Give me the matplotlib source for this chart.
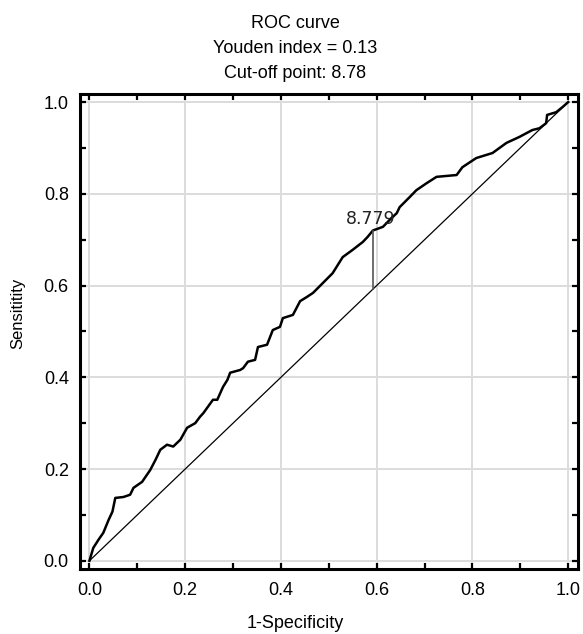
import matplotlib
matplotlib.use("Agg")
import matplotlib.pyplot as plt
from matplotlib.ticker import MultipleLocator

# ====== DATA ======
fpr = [0.000, 0.008, 0.019, 0.029, 0.040, 0.048, 0.054, 0.071, 0.085, 0.092,
       0.110, 0.127, 0.138, 0.148, 0.162, 0.175, 0.190, 0.204, 0.221, 0.231,
       0.238, 0.258, 0.267, 0.279, 0.288, 0.294, 0.315, 0.321, 0.331, 0.346,
       0.352, 0.371, 0.383, 0.398, 0.404, 0.425, 0.440, 0.454, 0.467, 0.488,
       0.508, 0.529, 0.550, 0.571, 0.581, 0.592, 0.613, 0.627, 0.642, 0.648,
       0.669, 0.683, 0.704, 0.725, 0.767, 0.779, 0.808, 0.842, 0.871, 0.898,
       0.925, 0.940, 0.954, 0.956, 0.975, 0.988, 1.000]
tpr = [0.000, 0.028, 0.046, 0.061, 0.089, 0.107, 0.137, 0.139, 0.144, 0.159,
       0.172, 0.198, 0.220, 0.242, 0.253, 0.249, 0.264, 0.290, 0.300, 0.314,
       0.322, 0.351, 0.351, 0.379, 0.394, 0.410, 0.416, 0.420, 0.434, 0.438,
       0.466, 0.471, 0.503, 0.510, 0.529, 0.536, 0.566, 0.575, 0.584, 0.606,
       0.627, 0.662, 0.678, 0.695, 0.706, 0.720, 0.728, 0.743, 0.758, 0.771,
       0.793, 0.808, 0.823, 0.837, 0.841, 0.858, 0.878, 0.889, 0.911, 0.924,
       0.939, 0.943, 0.954, 0.972, 0.978, 0.989, 1.000]
cut_fpr = 0.592
cut_tpr = 0.720
cut_label = "8.779"
title_lines = ["ROC curve", "Youden index = 0.13", "Cut-off point: 8.78"]
ticks = [0.0, 0.2, 0.4, 0.6, 0.8, 1.0]
# ===========================================

plt.rcParams['font.family'] = ['Liberation Sans', 'DejaVu Sans']

fig = plt.figure(figsize=(5.83, 6.34), dpi=100)
ax = fig.add_axes([0.137, 0.1025, 0.854, 0.7495])

ax.plot([0, 1], [0, 1], color='black', lw=0.9)
ax.plot(fpr, tpr, color='black', lw=1.8)
ax.plot([cut_fpr, cut_fpr], [cut_fpr, cut_tpr], color='#555555', lw=1.2)
ax.text(cut_fpr - 0.004, cut_tpr + 0.006, cut_label, ha='center', va='bottom',
        fontsize=12.5, family='DejaVu Sans', color='#222222')

ax.set_xlim(-0.02, 1.02)
ax.set_ylim(-0.018, 1.018)
ax.set_xticks(ticks)
ax.set_yticks(ticks)
ax.set_xticklabels([f"{t:.1f}" for t in ticks])
ax.set_yticklabels([f"{t:.1f}" for t in ticks])
ax.xaxis.set_minor_locator(MultipleLocator(0.1))
ax.yaxis.set_minor_locator(MultipleLocator(0.1))
ax.tick_params(which='both', direction='in', top=True, right=True,
               length=4, width=1.6, labelsize=13)
ax.tick_params(axis='x', pad=9)
ax.tick_params(axis='y', pad=8)
ax.grid(True, which='major', color='#dcdcdc', lw=1.4)
ax.set_axisbelow(True)
for s in ax.spines.values():
    s.set_linewidth(2.2)

fig.text(0.506, 0.977, "\n".join(title_lines), ha='center', va='top',
         fontsize=13, linespacing=1.65)
fig.text(0.506, 0.003, "1-Specificity", ha='center', va='bottom', fontsize=13)
fig.text(0.018, 0.505, "Sensititity", ha='left', va='center', rotation=90,
         fontsize=12)

fig.savefig("out.png", dpi=100)
